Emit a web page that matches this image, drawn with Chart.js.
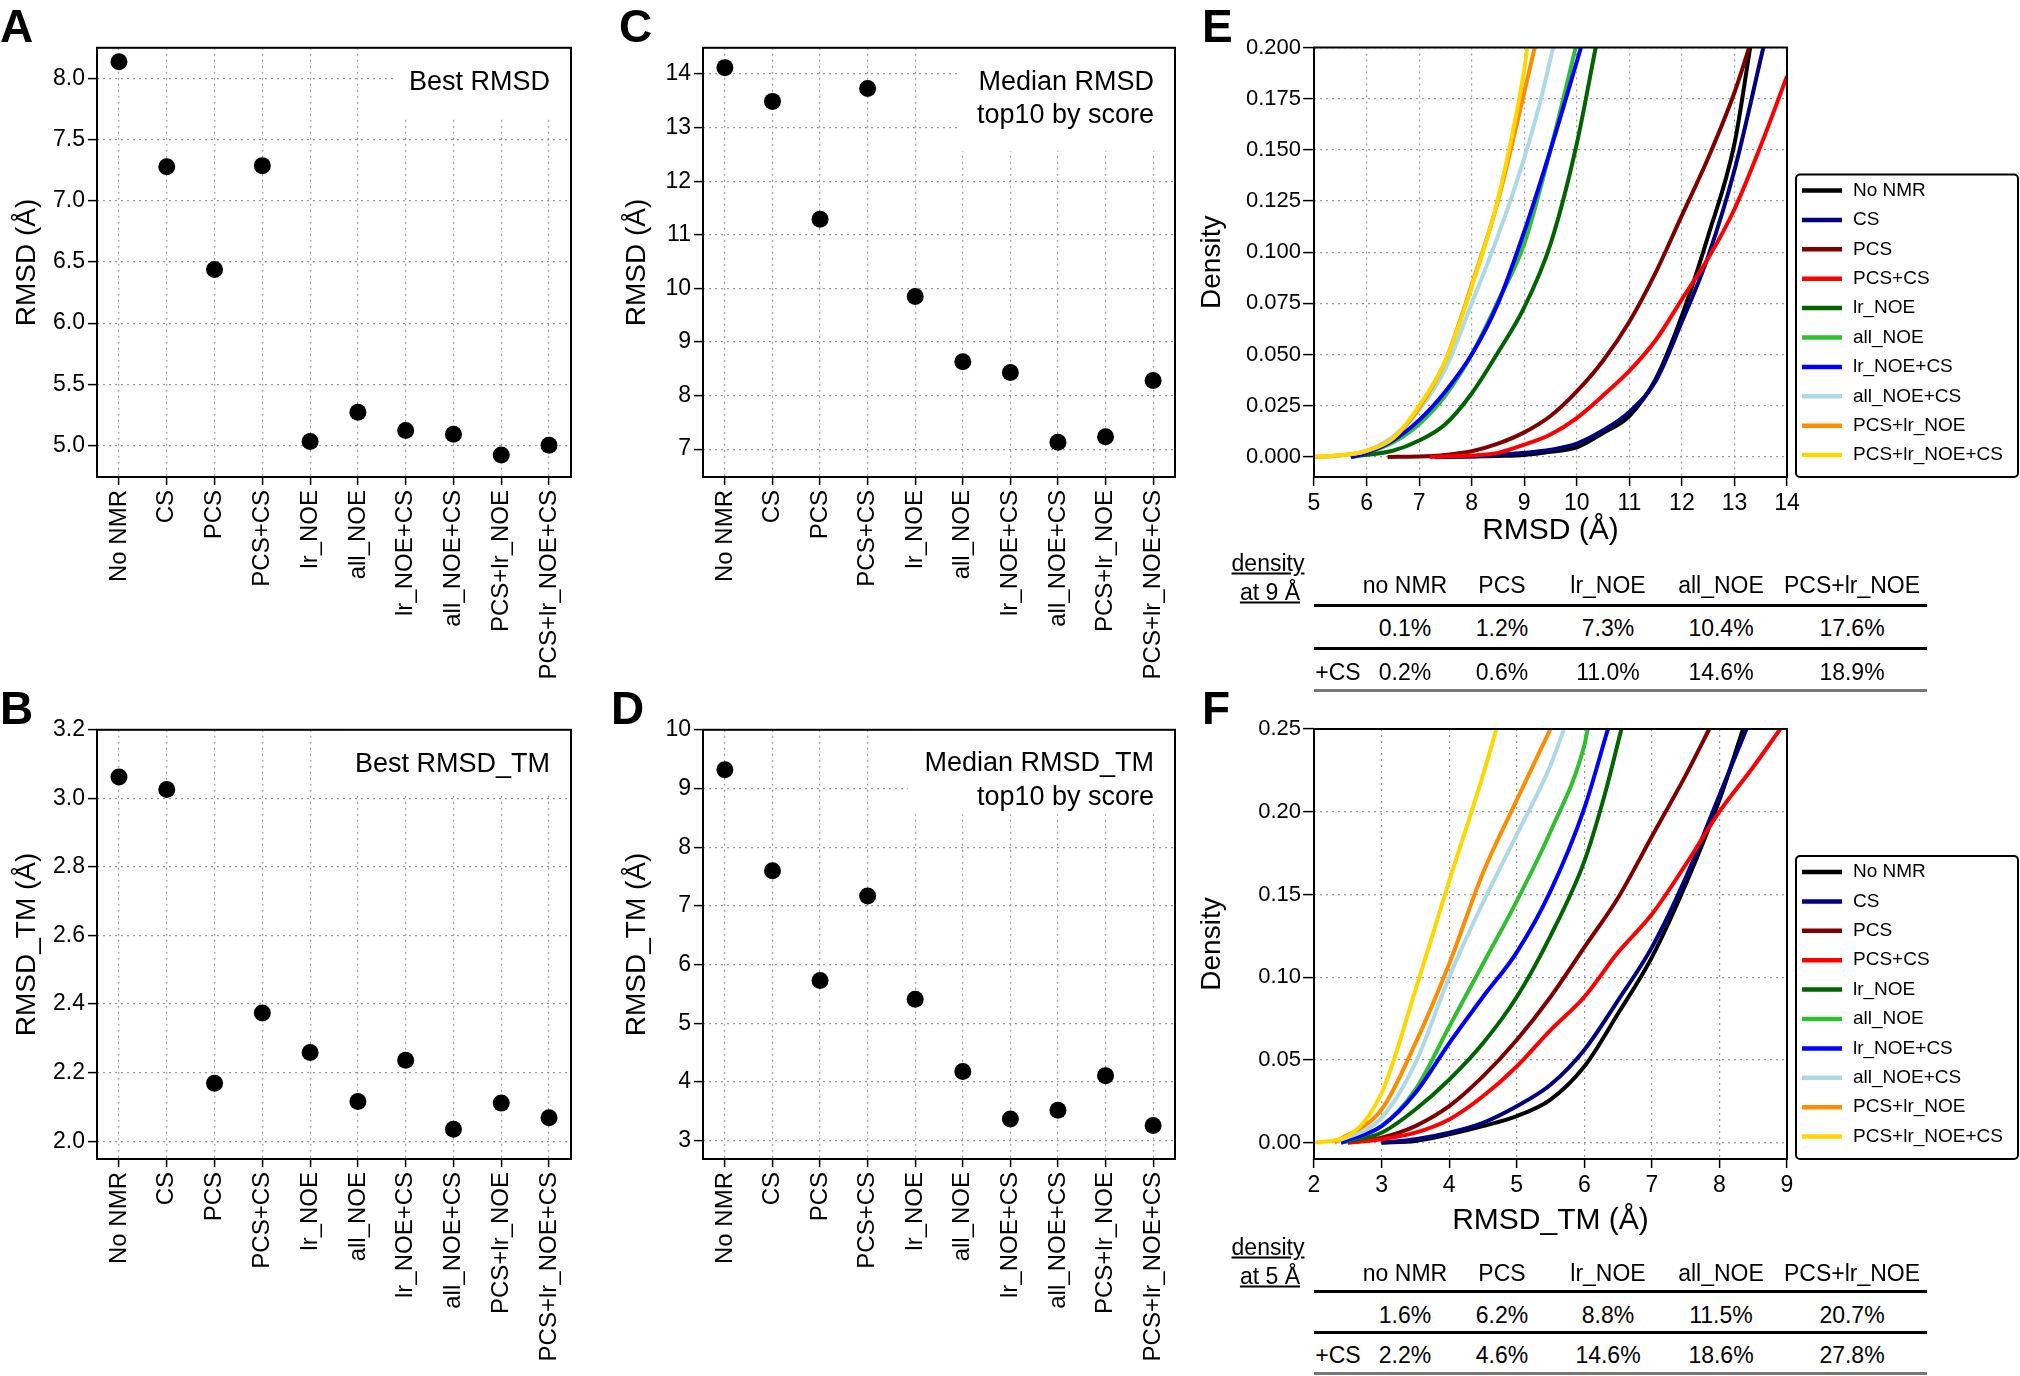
<!DOCTYPE html>
<html>
<head>
<meta charset="utf-8">
<script src="https://cdn.jsdelivr.net/npm/chart.js@4.4.1/dist/chart.umd.min.js"></script>
<style>
  body { margin: 0; background: #fff; }
  #page { position: relative; width: 2020px; height: 1376px; overflow: hidden; background: #fff;
          font-family: "Liberation Sans", Arial, sans-serif; color: #000; }
  .wrap { position: absolute; }
  .letter { position: absolute; font-weight: bold; font-size: 46px; line-height: 1; }
  .t { position: absolute; font-size: 23px; line-height: 1; white-space: nowrap; transform: translate(-50%, -50%); }
  .rule { position: absolute; height: 3px; }
</style>
</head>
<body>
<div id="page"></div>
<script>
const FAMILY = "'Liberation Sans', Arial, sans-serif";

// categories of panels A-D
const categories = ["No NMR", "CS", "PCS", "PCS+CS", "lr_NOE", "all_NOE",
  "lr_NOE+CS", "all_NOE+CS", "PCS+lr_NOE", "PCS+lr_NOE+CS"];

const bestRmsd = [8.14, 7.28, 6.44, 7.29, 5.03, 5.27, 5.12, 5.09, 4.92, 5.00];
const bestRmsdTm = [3.062, 3.026, 2.169, 2.374, 2.259, 2.116, 2.236, 2.035, 2.111, 2.068];
const medianRmsd = [14.12, 13.49, 11.29, 13.73, 9.85, 8.63, 8.43, 7.13, 7.23, 8.28];
const medianRmsdTm = [9.32, 7.60, 5.73, 7.17, 5.41, 4.18, 3.37, 3.52, 4.11, 3.26];

const ticksA = [5.0, 5.5, 6.0, 6.5, 7.0, 7.5, 8.0];
const ticksB = [2.0, 2.2, 2.4, 2.6, 2.8, 3.0, 3.2];
const ticksC = [7, 8, 9, 10, 11, 12, 13, 14];
const ticksD = [3, 4, 5, 6, 7, 8, 9, 10];
const ticksEx = [5, 6, 7, 8, 9, 10, 11, 12, 13, 14];
const ticksEy = [0, 0.025, 0.05, 0.075, 0.1, 0.125, 0.15, 0.175, 0.2];
const ticksFx = [2, 3, 4, 5, 6, 7, 8, 9];
const ticksFy = [0, 0.05, 0.1, 0.15, 0.2, 0.25];

// density curves, series order as in the legends
const seriesNames = ["No NMR", "CS", "PCS", "PCS+CS", "lr_NOE", "all_NOE",
  "lr_NOE+CS", "all_NOE+CS", "PCS+lr_NOE", "PCS+lr_NOE+CS"];
const seriesColors = ["#000000", "#000080", "#800000", "#ff0000", "#006400", "#2fbf2f",
  "#0000ff", "#add8e6", "#ff8c00", "#ffd700"];

// E: [RMSD, density]
const eNoNmr = [[7.3, 0], [8, 0.0002], [8.5, 0.0005], [9, 0.001], [9.5, 0.0025], [10, 0.0047], [10.5, 0.0117],
  [11, 0.02], [11.5, 0.038], [12, 0.069], [12.5, 0.108], [13, 0.153], [13.3, 0.2]];
const eCs = [[7.5, 0], [8, 0.0003], [8.5, 0.001], [9, 0.002], [9.5, 0.0035], [10, 0.0065], [10.5, 0.013],
  [11, 0.022], [11.5, 0.037], [12, 0.066], [12.5, 0.098], [13, 0.14], [13.55, 0.2]];
const ePcs = [[6.4, 0], [7, 0.0002], [7.5, 0.001], [8, 0.0028], [8.5, 0.0065], [9, 0.012], [9.5, 0.02],
  [10, 0.032], [10.5, 0.047], [11, 0.066], [11.5, 0.09], [12, 0.118], [12.5, 0.146], [13, 0.178], [13.28, 0.2]];
const ePcsCs = [[7.2, 0], [8, 0.0007], [8.5, 0.002], [9, 0.006], [9.5, 0.011], [10, 0.019], [10.5, 0.03],
  [11, 0.042], [11.5, 0.057], [12, 0.077], [12.5, 0.097], [13, 0.121], [13.5, 0.152], [14, 0.186]];
const eLrNoe = [[5.7, 0], [6, 0.001], [6.5, 0.003], [7, 0.008], [7.5, 0.016], [8, 0.031], [8.5, 0.051],
  [9, 0.073], [9.5, 0.104], [10, 0.153], [10.36, 0.2]];
const eAllNoe = [[5.7, 0], [6, 0.002], [6.5, 0.007], [7, 0.016], [7.5, 0.03], [8, 0.05], [8.5, 0.076],
  [9, 0.104], [9.5, 0.15], [9.98, 0.2]];
const eLrNoeCs = [[5.7, 0], [6, 0.002], [6.5, 0.008], [7, 0.018], [7.5, 0.032], [8, 0.05], [8.5, 0.075],
  [9, 0.11], [9.5, 0.15], [10.08, 0.2]];
const eAllNoeCs = [[5.2, 0], [5.5, 0.0008], [6, 0.003], [6.5, 0.01], [7, 0.023], [7.5, 0.043], [8, 0.075],
  [8.5, 0.108], [9, 0.146], [9.3, 0.173], [9.55, 0.2]];
const ePcsLrNoe = [[5, 0], [5.5, 0.0008], [6, 0.003], [6.5, 0.009], [7, 0.024], [7.5, 0.047], [8, 0.084],
  [8.5, 0.125], [9, 0.178], [9.2, 0.2]];
const ePcsLrNoeCs = [[5, 0.0002], [5.5, 0.0008], [6, 0.003], [6.5, 0.009], [7, 0.025], [7.5, 0.047], [8, 0.083],
  [8.5, 0.126], [9, 0.189], [9.06, 0.2]];

// F: [RMSD_TM, density]
const fNoNmr = [[3, 0], [3.5, 0.001], [4, 0.005], [4.5, 0.01], [5, 0.016], [5.5, 0.026], [6, 0.046],
  [6.5, 0.078], [7, 0.112], [7.5, 0.156], [8, 0.207], [8.35, 0.25]];
const fCs = [[3, 0], [3.5, 0.002], [4, 0.006], [4.5, 0.012], [5, 0.022], [5.5, 0.035], [6, 0.056],
  [6.5, 0.086], [7, 0.118], [7.5, 0.16], [8, 0.21], [8.4, 0.25]];
const fPcs = [[2.5, 0], [3, 0.003], [3.5, 0.01], [4, 0.022], [4.5, 0.04], [5, 0.062], [5.5, 0.088],
  [6, 0.118], [6.5, 0.148], [7, 0.185], [7.5, 0.222], [7.85, 0.25]];
const fPcsCs = [[2.5, 0], [3, 0.002], [3.5, 0.006], [4, 0.014], [4.5, 0.028], [5, 0.046], [5.5, 0.068],
  [6, 0.088], [6.5, 0.115], [7, 0.138], [7.5, 0.168], [8, 0.2], [8.5, 0.227], [8.9, 0.25]];
const fLrNoe = [[2.4, 0], [3, 0.006], [3.5, 0.02], [4, 0.038], [4.5, 0.06], [5, 0.088], [5.5, 0.125],
  [6, 0.17], [6.3, 0.21], [6.55, 0.25]];
const fAllNoe = [[2.4, 0], [3, 0.01], [3.5, 0.032], [4, 0.07], [4.5, 0.108], [5, 0.146], [5.5, 0.188],
  [6, 0.24], [6.05, 0.25]];
const fLrNoeCs = [[2.4, 0], [3, 0.01], [3.5, 0.03], [4, 0.06], [4.5, 0.088], [5, 0.115], [5.5, 0.152],
  [6, 0.202], [6.35, 0.25]];
const fAllNoeCs = [[2.3, 0], [3, 0.015], [3.5, 0.048], [4, 0.1], [4.5, 0.145], [5, 0.186], [5.5, 0.228], [5.7, 0.25]];
const fPcsLrNoe = [[2.3, 0], [3, 0.02], [3.5, 0.06], [4, 0.108], [4.5, 0.163], [5, 0.207], [5.5, 0.25]];
const fPcsLrNoeCs = [[2, 0], [2.5, 0.004], [3, 0.03], [3.5, 0.092], [4, 0.158], [4.5, 0.222], [4.7, 0.25]];

const eSeries = [eNoNmr, eCs, ePcs, ePcsCs, eLrNoe, eAllNoe, eLrNoeCs, eAllNoeCs, ePcsLrNoe, ePcsLrNoeCs];
const fSeries = [fNoNmr, fCs, fPcs, fPcsCs, fLrNoe, fAllNoe, fLrNoeCs, fAllNoeCs, fPcsLrNoe, fPcsLrNoeCs];

// tables under E and F
const tableCols = ["no NMR", "PCS", "lr_NOE", "all_NOE", "PCS+lr_NOE"];
const density9 = ["0.1%", "1.2%", "7.3%", "10.4%", "17.6%"];
const density9Cs = ["0.2%", "0.6%", "11.0%", "14.6%", "18.9%"];
const density5 = ["1.6%", "6.2%", "8.8%", "11.5%", "20.7%"];
const density5Cs = ["2.2%", "4.6%", "14.6%", "18.6%", "27.8%"];

Chart.defaults.font.family = FAMILY;
Chart.defaults.color = "#000";

const page = document.getElementById("page");

// box around the plotting area
const frame = {
  id: "frame",
  afterDraw(chart) {
    const { ctx, chartArea: a } = chart;
    ctx.save();
    ctx.lineWidth = 2;
    ctx.strokeStyle = "#000";
    ctx.strokeRect(a.left, a.top, a.right - a.left, a.bottom - a.top);
    ctx.restore();
  },
};

// text label in the top right corner, on a white patch
const note = {
  id: "note",
  beforeDatasetsDraw(chart, args, o) {
    if (!o.lines) return;
    const { ctx, chartArea: a, scales } = chart;
    const x0 = scales.x.getPixelForValue(o.x0);
    const y1 = scales.y.getPixelForValue(o.y1);
    ctx.save();
    ctx.fillStyle = "#fff";
    ctx.fillRect(x0, a.top, a.right - x0, y1 - a.top);
    ctx.fillStyle = "#000";
    ctx.font = `27px ${FAMILY}`;
    ctx.textAlign = "right";
    ctx.textBaseline = "middle";
    const xr = scales.x.getPixelForValue(o.x);
    o.lines.forEach((l) => ctx.fillText(l.text, xr, scales.y.getPixelForValue(l.y)));
    ctx.restore();
  },
};

const curveLegend = {
  id: "curveLegend",
  afterDraw(chart, args, o) {
    if (!o.rowH) return;
    const { ctx, chartArea: a } = chart;
    const left = a.right + o.dx;
    const top = a.top + o.top;
    const right = chart.width - 2;
    const bottom = a.bottom;
    ctx.save();
    ctx.lineWidth = 2;
    ctx.strokeStyle = "#000";
    ctx.beginPath();
    if (ctx.roundRect) ctx.roundRect(left, top, right - left, bottom - top, 4);
    else ctx.rect(left, top, right - left, bottom - top);
    ctx.stroke();
    ctx.font = `19px ${FAMILY}`;
    ctx.textBaseline = "middle";
    ctx.fillStyle = "#000";
    chart.data.datasets.forEach((d, i) => {
      const y = top + o.first + i * o.rowH;
      ctx.strokeStyle = d.borderColor;
      ctx.lineWidth = 4.5;
      ctx.beginPath();
      ctx.moveTo(left + 6, y);
      ctx.lineTo(left + 46, y);
      ctx.stroke();
      ctx.fillText(d.label, left + 57, y);
    });
    ctx.restore();
  },
};

function gridOpts() {
  return { color: "#9a9a9a", lineWidth: 1.2, tickColor: "#000", tickLength: 8, tickWidth: 1.5 };
}

function catScale() {
  return {
    type: "linear",
    min: -0.46,
    max: 9.46,
    afterBuildTicks: (s) => { s.ticks = categories.map((c, i) => ({ value: i })); },
    ticks: {
      autoSkip: false, minRotation: 90, maxRotation: 90, padding: 5,
      font: { size: 24 }, callback: (v) => categories[v],
    },
    grid: gridOpts(),
    border: { display: false, dash: [2, 4] },
  };
}

function valScale(min, max, ticks, digits, title, opts) {
  return {
    type: "linear",
    min, max,
    afterBuildTicks: (s) => { s.ticks = ticks.map((v) => ({ value: v })); },
    ticks: { padding: opts.pad, font: { size: opts.tick }, callback: (v) => v.toFixed(digits) },
    grid: Object.assign(gridOpts(), { tickLength: opts.len }),
    border: { display: false, dash: [2, 4] },
    title: { display: !!title, text: title, font: { size: opts.title }, padding: { top: opts.tpad, bottom: 4 } },
  };
}

function panel(region, area, config) {
  const wrap = document.createElement("div");
  wrap.className = "wrap";
  wrap.style.left = region.x + "px";
  wrap.style.top = region.y + "px";
  const canvas = document.createElement("canvas");
  canvas.width = region.w;
  canvas.height = region.h;
  canvas.style.width = region.w + "px";
  canvas.style.height = region.h + "px";
  wrap.appendChild(canvas);
  page.appendChild(wrap);
  const o = config.options;
  o.responsive = false;
  o.animation = false;
  o.devicePixelRatio = 1;
  o.layout = { padding: { top: area.t - region.y, right: region.x + region.w - area.r, left: 0, bottom: 0 } };
  o.scales.x.afterFit = (s) => { s.height = region.y + region.h - area.b; };
  o.scales.y.afterFit = (s) => { s.width = area.l - region.x; };
  return new Chart(canvas, config);
}

function dotPanel(region, area, values, yMin, yMax, ticks, digits, title, noteOpts) {
  return panel(region, area, {
    type: "scatter",
    data: {
      datasets: [{
        data: values.map((v, i) => ({ x: i, y: v })),
        pointRadius: 8.5, pointHoverRadius: 8.5,
        backgroundColor: "#000", borderWidth: 0,
      }],
    },
    options: {
      plugins: { legend: { display: false }, tooltip: { enabled: false }, note: noteOpts },
      scales: {
        x: catScale(),
        y: valScale(yMin, yMax, ticks, digits, title, { tick: 23, title: 28, tpad: 10, len: 9, pad: 3 }),
      },
    },
    plugins: [note, frame],
  });
}

function curvePanel(region, area, series, xMin, xMax, xTicks, yMin, yMax, yTicks, yDigits, xTitle) {
  return panel(region, area, {
    type: "line",
    data: {
      datasets: series.map((s, i) => ({
        label: seriesNames[i],
        data: s.map((p) => ({ x: p[0], y: p[1] })),
        borderColor: seriesColors[i],
        backgroundColor: seriesColors[i],
        borderWidth: 4,
        pointRadius: 0,
        cubicInterpolationMode: "monotone",
        order: series.length - i,
      })),
    },
    options: {
      plugins: {
        legend: { display: false }, tooltip: { enabled: false },
        curveLegend: { dx: 9, top: 127, first: 16, rowH: 29.4 },
      },
      scales: {
        x: Object.assign(valScale(xMin, xMax, xTicks, 0, xTitle, { tick: 23, title: 30, tpad: 4, len: 9, pad: 4 }),
          { title: { display: true, text: xTitle, font: { size: 30 }, padding: { top: 4, bottom: 4 } } }),
        y: valScale(yMin, yMax, yTicks, yDigits, "Density", { tick: 22, title: 28, tpad: 5, len: 11, pad: 2 }),
      },
    },
    plugins: [curveLegend, frame],
  });
}

dotPanel({ x: 0, y: 31, w: 585, h: 661 }, { l: 97, t: 47.5, r: 571, b: 477 },
  bestRmsd, 4.74, 8.255, ticksA, 1, "RMSD (Å)",
  { x0: 5.8, y1: 7.69, x: 9.02, lines: [{ y: 7.97, text: "Best RMSD" }] });

dotPanel({ x: 610, y: 31, w: 580, h: 661 }, { l: 703, t: 47.5, r: 1175, b: 477 },
  medianRmsd, 6.48, 14.49, ticksC, 0, "RMSD (Å)",
  { x0: 4.9, y1: 12.56, x: 9.02, lines: [{ y: 13.85, text: "Median RMSD" }, { y: 13.22, text: "top10 by score" }] });

dotPanel({ x: 0, y: 713, w: 585, h: 663 }, { l: 97, t: 729, r: 571, b: 1159 },
  bestRmsdTm, 1.948, 3.2, ticksB, 1, "RMSD_TM (Å)",
  { x0: 4.7, y1: 3.01, x: 9.02, lines: [{ y: 3.10, text: "Best RMSD_TM" }] });

dotPanel({ x: 610, y: 713, w: 580, h: 663 }, { l: 703, t: 729, r: 1175, b: 1159 },
  medianRmsdTm, 2.69, 10, ticksD, 0, "RMSD_TM (Å)",
  { x0: 3.84, y1: 8.56, x: 9.02, lines: [{ y: 9.43, text: "Median RMSD_TM" }, { y: 8.84, text: "top10 by score" }] });

curvePanel({ x: 1190, y: 31, w: 830, h: 522 }, { l: 1314, t: 47.5, r: 1787, b: 477 },
  eSeries, 5, 14, ticksEx, -0.0098, 0.2, ticksEy, 3, "RMSD (Å)");

curvePanel({ x: 1190, y: 713, w: 830, h: 530 }, { l: 1314, t: 729, r: 1787, b: 1159 },
  fSeries, 2, 9, ticksFx, -0.0099, 0.25, ticksFy, 2, "RMSD_TM (Å)");

// panel letters
[["A", 0, 3], ["B", 0, 685], ["C", 619, 3], ["D", 611, 685], ["E", 1202, 3], ["F", 1202, 685]].forEach(([s, x, y]) => {
  const d = document.createElement("div");
  d.className = "letter";
  d.textContent = s;
  d.style.left = x + "px";
  d.style.top = y + "px";
  page.appendChild(d);
});

function text(str, x, y) {
  const d = document.createElement("div");
  d.className = "t";
  d.textContent = str;
  d.style.left = x + "px";
  d.style.top = y + "px";
  page.appendChild(d);
  return d;
}

function rule(y, color) {
  const d = document.createElement("div");
  d.className = "rule";
  d.style.left = "1314px";
  d.style.width = "613px";
  d.style.top = (y - 1.5) + "px";
  d.style.background = color;
  page.appendChild(d);
}

const colX = [1405, 1502, 1608, 1721, 1852];

function densityTable(pos, atLabel, row1, row2) {
  text("density", 1268, pos.density).style.textDecoration = "underline";
  text(atLabel, 1270, pos.at).style.textDecoration = "underline";
  tableCols.forEach((c, i) => text(c, colX[i], pos.head));
  rule(pos.l1, "#000");
  row1.forEach((v, i) => text(v, colX[i], pos.r1));
  rule(pos.l2, "#000");
  text("+CS", 1338, pos.r2);
  row2.forEach((v, i) => text(v, colX[i], pos.r2));
  rule(pos.l3, "#777");
}

densityTable({ density: 563, at: 592, head: 585, l1: 605.5, r1: 627.6, l2: 648, r2: 672, l3: 690.5 },
  "at 9 Å", density9, density9Cs);
densityTable({ density: 1247, at: 1276, head: 1273, l1: 1291, r1: 1315, l2: 1332.4, r2: 1355, l3: 1373 },
  "at 5 Å", density5, density5Cs);
</script>
</body>
</html>
